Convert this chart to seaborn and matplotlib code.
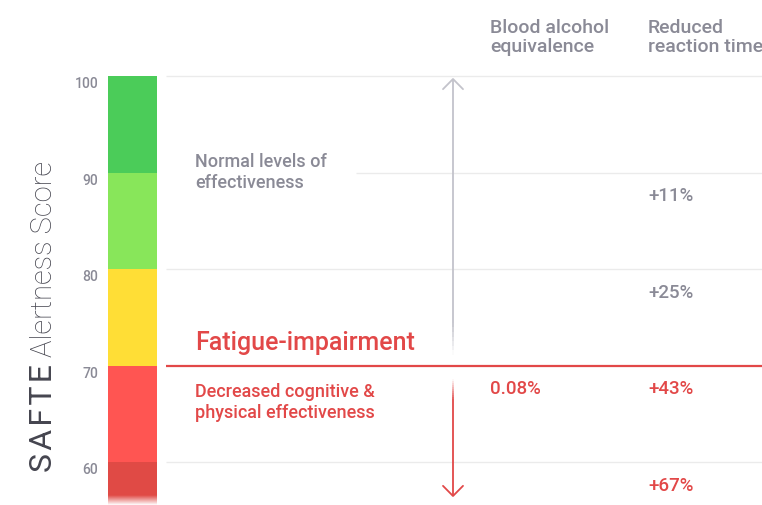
#%% bibliotecas
import numpy as np
import seaborn as sns
import matplotlib.pyplot as plt
from matplotlib.collections import LineCollection
from matplotlib.colors import to_rgba

#%% dados
# faixas da escala SAFTE (de cima para baixo)
band_top = [100, 90, 80, 70, 60]
band_bottom = [90, 80, 70, 60, 50]
band_colors = ['#4bcc59', '#88e65a', '#ffde36', '#ff5552', '#e04a45']
score_ticks = [60, 70, 80, 90, 100]
threshold = 70

# tabela à direita
headers = ['Blood alcohol\nequivalence', 'Reduced\nreaction time']
row_top = [90, 80, 70, 60]
blood_alcohol = ['', '', '0.08%', '']
reaction_time = ['+11%', '+25%', '+43%', '+67%']

#%% estilo
sns.set_theme(style='white')
plt.rcParams['font.family'] = ['Roboto', 'DejaVu Sans']

GRAY = '#8a8a96'
GRID = '#ebebeb'
RED = '#e24848'
ARROW = '#c3c3cb'
LABEL = '#45454f'
FW = 'medium'

W, H = 762, 506
fig = plt.figure(figsize=(W / 100, H / 100), dpi=100)
ax = fig.add_axes([108 / W, 0, 654 / W, 1])


def px_to_score(py):
    return 100 - (py - 77) / 9.65


#%% barra de cores
heights = np.array(band_top) - np.array(band_bottom)
ax.bar(0, heights, bottom=band_bottom, width=49, align='edge',
       color=band_colors, linewidth=0, zorder=2)

# esmaecer a base da barra
fade = np.ones((40, 1, 4))
fade[:, 0, 3] = np.linspace(0, 1, 40)
ax.imshow(fade, extent=[0, 49, px_to_score(H), px_to_score(496)],
          aspect='auto', zorder=3, origin='upper')
ax.set_xlim(0, 654)
ax.set_ylim(px_to_score(H), px_to_score(0))

#%% linhas de grade e limiar
for t in score_ticks:
    if t == threshold:
        continue
    start = 248 if t == 90 else 58
    ax.hlines(t, start, 654, color=GRID, lw=1, zorder=1)
ax.hlines(threshold, 58, 654, color=RED, lw=1.6, zorder=4)


def fading_line(x, y0, y1, color, fade_from, n=60):
    # linha vertical que fica transparente perto de y0
    ys = np.linspace(y0, y1, n + 1)
    segs = [[(x, ys[i]), (x, ys[i + 1])] for i in range(n)]
    mids = (ys[:-1] + ys[1:]) / 2
    alpha = np.clip((mids - y0) / (fade_from - y0), 0, 1)
    cols = [to_rgba(color, a) for a in alpha]
    ax.add_collection(LineCollection(segs, colors=cols, lw=1.3, zorder=3))


def chevron(x, y, color, up=True):
    dy = 1.05 if up else -1.05
    ax.plot([x - 10, x, x + 10], [y - dy, y, y - dy],
            color=color, lw=1.3, solid_capstyle='round', zorder=3)


# seta para cima (cinza)
fading_line(345, px_to_score(356), px_to_score(80), ARROW, px_to_score(325))
chevron(345, px_to_score(80), ARROW, up=True)
# seta para baixo (vermelha)
fading_line(345, px_to_score(380), px_to_score(497), RED, px_to_score(400))
chevron(345, px_to_score(497), RED, up=False)

#%% textos (va='baseline' alinha pela última linha)
ax.text(382, px_to_score(52), headers[0], color=GRAY, fontsize=14,
        fontweight=FW, va='baseline', ha='left', linespacing=1.05)
ax.text(540, px_to_score(52), headers[1], color=GRAY, fontsize=14,
        fontweight=FW, va='baseline', ha='left', linespacing=1.05)

ax.text(87, px_to_score(188), 'Normal levels of\neffectiveness', color=GRAY,
        fontsize=13, fontweight=FW, va='baseline', ha='left', linespacing=1.2)
ax.text(87, threshold + 1.7, 'Fatigue-impairment', color=RED, fontsize=18,
        fontweight=FW, va='baseline', ha='left')
ax.text(87, px_to_score(418), 'Decreased cognitive &\nphysical effectiveness',
        color=RED, fontsize=13, fontweight=FW, va='baseline', ha='left',
        linespacing=1.2)

for top, ba, rt in zip(row_top, blood_alcohol, reaction_time):
    col = RED if top <= threshold else GRAY
    y = top - 2.85
    if ba:
        ax.text(382, y, ba, color=col, fontsize=13.5, fontweight=FW,
                va='baseline', ha='left')
    ax.text(540, y, rt, color=col, fontsize=13.5, fontweight=FW,
            va='baseline', ha='left')

#%% eixo y
ax.set_yticks(score_ticks)
ax.set_yticklabels([str(t) for t in score_ticks])
ax.tick_params(axis='y', length=0, pad=7, labelsize=10, labelcolor=GRAY)
for lab in ax.get_yticklabels():
    lab.set_va('top')
    lab.set_fontweight(FW)
ax.set_xticks([])
sns.despine(ax=ax, left=True, bottom=True)

hs = '\u200a'
fig.text(52 / W, 1 - 472 / H, hs.join('SAFTE'), rotation=90,
         rotation_mode='anchor', ha='left', va='baseline', fontsize=23,
         color=LABEL)
fig.text(52 / W, 1 - 357 / H, 'Alertness Score', rotation=90,
         rotation_mode='anchor', ha='left', va='baseline', fontsize=21,
         fontweight='light', color=LABEL)

fig.savefig('out.png', dpi=100)
